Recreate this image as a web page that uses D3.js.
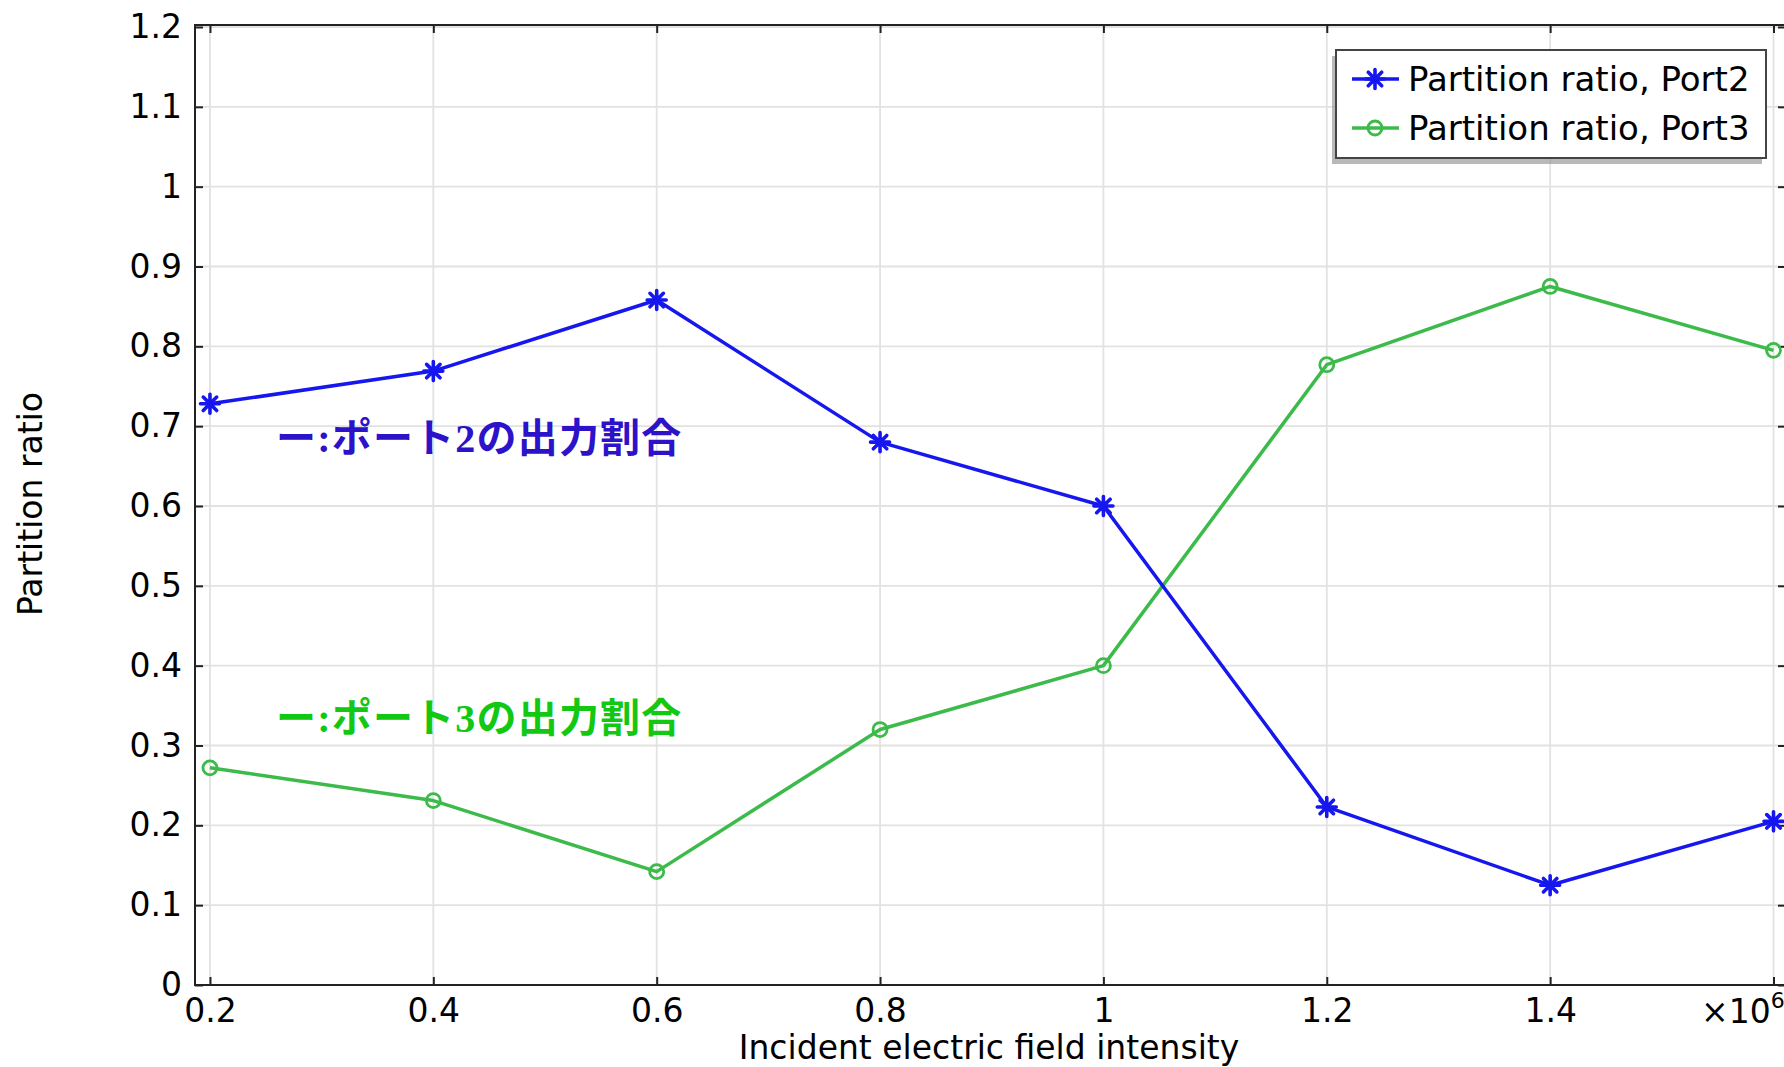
<!DOCTYPE html>
<html>
<head>
<meta charset="utf-8">
<script src="https://cdn.jsdelivr.net/npm/d3@7/dist/d3.min.js"></script>
<style>
  html, body { margin: 0; padding: 0; background: #ffffff; }
  svg { display: block; }
  .tick text { font-family: "DejaVu Sans", sans-serif; font-size: 33px; fill: #000; }
</style>
</head>
<body>
<svg id="chart" width="1784" height="1067"></svg>
<script>
// Incident electric field intensity (×10^6) at each sweep step
const fieldIntensity = [0.2, 0.4, 0.6, 0.8, 1.0, 1.2, 1.4, 1.6];
// Partition ratio into each output port
const ratioPort2 = [0.728, 0.769, 0.858, 0.680, 0.600, 0.223, 0.125, 0.205];
const ratioPort3 = [0.272, 0.231, 0.142, 0.320, 0.400, 0.777, 0.875, 0.795];

const seriesNames = ["Partition ratio, Port2", "Partition ratio, Port3"];
const annotationTexts = ["ー:ポート2の出力割合", "ー:ポート3の出力割合"];

const xTickValues = [0.2, 0.4, 0.6, 0.8, 1.0, 1.2, 1.4, 1.6];
const xTickLabels = ["0.2", "0.4", "0.6", "0.8", "1", "1.2", "1.4", ""];
const yTickValues = [0, 0.1, 0.2, 0.3, 0.4, 0.5, 0.6, 0.7, 0.8, 0.9, 1.0, 1.1, 1.2];
const yTickLabels = ["0", "0.1", "0.2", "0.3", "0.4", "0.5", "0.6", "0.7", "0.8", "0.9", "1", "1.1", "1.2"];

const xTitle = "Incident electric field intensity";
const yTitle = "Partition ratio";

// Layout
const frame = { left: 195, top: 25, right: 1786, bottom: 985 };
const colors = {
  port2: "#1616ee",
  port3: "#3cba4a",
  note2: "#2c12c8",
  note3: "#12c812",
  grid: "#e2e2e2"
};
const FONT = "'DejaVu Sans', sans-serif";

const svg = d3.select("#chart");

const x = d3.scaleLinear().domain([0.1866, 1.6094]).range([frame.left, 1784]);
const y = d3.scaleLinear().domain([0, 1.2025]).range([frame.bottom, frame.top]);

// Grid lines
const grid = svg.append("g").attr("class", "grid");
grid.selectAll("line.vx").data(xTickValues).join("line")
  .attr("x1", d => x(d)).attr("x2", d => x(d))
  .attr("y1", frame.top).attr("y2", frame.bottom)
  .attr("stroke", colors.grid).attr("stroke-width", 1.8);
grid.selectAll("line.hy").data(yTickValues).join("line")
  .attr("x1", frame.left).attr("x2", frame.right)
  .attr("y1", d => y(d)).attr("y2", d => y(d))
  .attr("stroke", colors.grid).attr("stroke-width", 1.8);

// Frame
svg.append("rect")
  .attr("x", frame.left).attr("y", frame.top)
  .attr("width", frame.right - frame.left).attr("height", frame.bottom - frame.top)
  .attr("fill", "none").attr("stroke", "#222").attr("stroke-width", 2);

// Axes (ticks point inward)
const xAxis = d3.axisBottom(x)
  .tickValues(xTickValues)
  .tickFormat((d, i) => xTickLabels[i])
  .tickSizeInner(-8).tickSizeOuter(0).tickPadding(14);
const gx = svg.append("g").attr("transform", `translate(0,${frame.bottom})`).call(xAxis);
gx.select(".domain").remove();
gx.selectAll(".tick line").attr("stroke", "#222").attr("stroke-width", 2);

const yAxis = d3.axisLeft(y)
  .tickValues(yTickValues)
  .tickFormat((d, i) => yTickLabels[i])
  .tickSizeInner(-8).tickSizeOuter(0).tickPadding(13);
const gy = svg.append("g").attr("transform", `translate(${frame.left},0)`).call(yAxis);
gy.select(".domain").remove();
gy.selectAll(".tick line").attr("stroke", "#222").attr("stroke-width", 2);

// Mirror ticks on top and right edges
const gTop = svg.append("g").attr("transform", `translate(0,${frame.top})`)
  .call(d3.axisTop(x).tickValues(xTickValues).tickFormat("").tickSizeInner(-8).tickSizeOuter(0));
gTop.select(".domain").remove();
gTop.selectAll(".tick line").attr("stroke", "#222").attr("stroke-width", 2);
const gRight = svg.append("g").attr("transform", `translate(1786,0)`)
  .call(d3.axisRight(y).tickValues(yTickValues).tickFormat("").tickSizeInner(-8).tickSizeOuter(0));
gRight.select(".domain").remove();
gRight.selectAll(".tick line").attr("stroke", "#222").attr("stroke-width", 2);

// Exponent label for the x axis
const expo = svg.append("text")
  .attr("x", 1701).attr("y", 1023)
  .attr("font-family", FONT).attr("font-size", 33).attr("fill", "#000")
  .text("×10");
expo.append("tspan").attr("dy", -15).attr("font-size", 22).text("6");

// Axis titles
svg.append("text")
  .attr("x", 989).attr("y", 1059)
  .attr("text-anchor", "middle")
  .attr("font-family", FONT).attr("font-size", 33).attr("fill", "#000")
  .text(xTitle);
svg.append("text")
  .attr("transform", "translate(42,504) rotate(-90)")
  .attr("text-anchor", "middle")
  .attr("font-family", FONT).attr("font-size", 33).attr("fill", "#000")
  .text(yTitle);

// Marker shapes
function asteriskPath(r) {
  const d = r * Math.SQRT1_2;
  return `M0,${-r}L0,${r}M${-r},0L${r},0M${-d},${-d}L${d},${d}M${-d},${d}L${d},${-d}`;
}

const pts2 = fieldIntensity.map((v, i) => [v, ratioPort2[i]]);
const pts3 = fieldIntensity.map((v, i) => [v, ratioPort3[i]]);
const line = d3.line().x(d => x(d[0])).y(d => y(d[1]));

// Port3 series (circles)
svg.append("path").datum(pts3)
  .attr("d", line).attr("fill", "none")
  .attr("stroke", colors.port3).attr("stroke-width", 3.5).attr("stroke-linejoin", "round");
svg.selectAll("circle.p3").data(pts3).join("circle")
  .attr("class", "p3")
  .attr("cx", d => x(d[0])).attr("cy", d => y(d[1])).attr("r", 7)
  .attr("fill", "none").attr("stroke", colors.port3).attr("stroke-width", 2.8);

// Port2 series (asterisks)
svg.append("path").datum(pts2)
  .attr("d", line).attr("fill", "none")
  .attr("stroke", colors.port2).attr("stroke-width", 3.5).attr("stroke-linejoin", "round");
svg.selectAll("path.p2").data(pts2).join("path")
  .attr("class", "p2")
  .attr("transform", d => `translate(${x(d[0])},${y(d[1])})`)
  .attr("d", asteriskPath(9.5))
  .attr("fill", "none").attr("stroke", colors.port2).attr("stroke-width", 3.6)
  .attr("stroke-linecap", "round");

// Annotation labels
const notes = [
  { text: annotationTexts[0], color: colors.note2, x: 276, y: 452 },
  { text: annotationTexts[1], color: colors.note3, x: 276, y: 732 }
];
svg.selectAll("text.note").data(notes).join("text")
  .attr("class", "note")
  .attr("x", d => d.x).attr("y", d => d.y)
  .attr("font-family", "'Liberation Serif', 'Noto Sans CJK JP', serif")
  .attr("font-weight", "bold").attr("font-size", 40)
  .attr("letter-spacing", 1.2)
  .attr("fill", d => d.color)
  .text(d => d.text);

// Legend
const legend = svg.append("g");
legend.append("rect")
  .attr("x", 1332).attr("y", 56).attr("width", 430).attr("height", 108)
  .attr("fill", "#9a9a9a").attr("opacity", 0.7);
legend.append("rect")
  .attr("x", 1336).attr("y", 50).attr("width", 430).attr("height", 108)
  .attr("fill", "#ffffff").attr("stroke", "#444").attr("stroke-width", 2);

const legendRows = [
  { name: seriesNames[0], color: colors.port2, marker: "asterisk", cy: 79 },
  { name: seriesNames[1], color: colors.port3, marker: "circle", cy: 128 }
];
const rows = legend.selectAll("g.row").data(legendRows).join("g").attr("class", "row");
rows.append("line")
  .attr("x1", 1352).attr("x2", 1399)
  .attr("y1", d => d.cy).attr("y2", d => d.cy)
  .attr("stroke", d => d.color).attr("stroke-width", 3.5);
rows.filter(d => d.marker === "asterisk").append("path")
  .attr("transform", d => `translate(1375,${d.cy})`)
  .attr("d", asteriskPath(9.5))
  .attr("fill", "none").attr("stroke", d => d.color).attr("stroke-width", 3.6)
  .attr("stroke-linecap", "round");
rows.filter(d => d.marker === "circle").append("circle")
  .attr("cx", 1375).attr("cy", d => d.cy).attr("r", 7)
  .attr("fill", "none").attr("stroke", d => d.color).attr("stroke-width", 2.8);
rows.append("text")
  .attr("x", 1408).attr("y", d => d.cy + 12)
  .attr("font-family", FONT).attr("font-size", 34).attr("fill", "#000")
  .text(d => d.name);
</script>
</body>
</html>
